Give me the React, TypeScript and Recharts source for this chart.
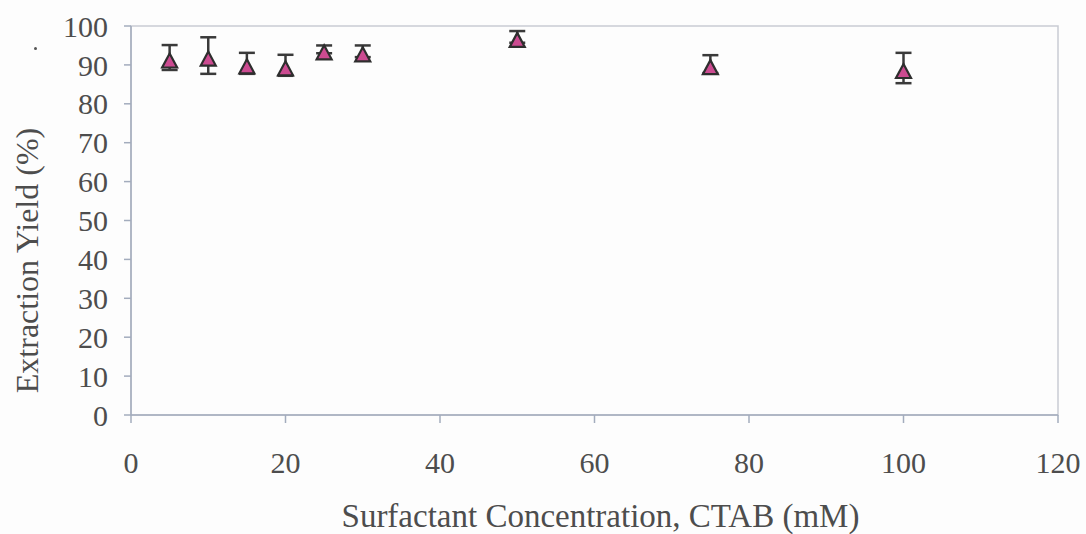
import React from "react";
import {
  ScatterChart,
  Scatter,
  XAxis,
  YAxis,
  ErrorBar,
  ReferenceArea,
} from "recharts";

// CTAB concentration (mM) vs extraction yield (%)
const concentrations = [5, 10, 15, 20, 25, 30, 50, 75, 100];
const yields = [91.9, 92.4, 90.4, 89.9, 94.0, 93.5, 97.2, 90.2, 89.2];
const errors = [3.2, 4.7, 2.7, 2.7, 1.0, 1.5, 1.5, 2.3, 3.9];

const xTicks = [0, 20, 40, 60, 80, 100, 120];
const yTicks = [0, 10, 20, 30, 40, 50, 60, 70, 80, 90, 100];

const data = concentrations.map((c, i) => ({ x: c, y: yields[i], err: errors[i] }));

const FONT = "'Liberation Serif', 'DejaVu Serif', serif";
const TEXT = "#4d4d4d";
const AXIS = "#a3acbd";

const Triangle = (props: any) => {
  const { cx, cy } = props;
  if (cx == null || cy == null) return null;
  const top = cy - 4;
  const base = cy + 10;
  return (
    <path
      d={`M${cx},${top} L${cx + 7.5},${base} L${cx - 7.5},${base} Z`}
      fill="#cc4b91"
      stroke="#2e2e2e"
      strokeWidth={2.2}
    />
  );
};

const YTitle = (props: any) => {
  const vb = props.viewBox || {};
  const cy = vb.y + vb.height / 2 + 40;
  return (
    <text
      x={27}
      y={cy}
      transform={`rotate(-90, 27, ${cy})`}
      textAnchor="middle"
      dominantBaseline="central"
      style={{ fontFamily: FONT, fontSize: 32 }}
      fill={TEXT}
    >
      Extraction Yield (%)
    </text>
  );
};

const XTitle = (props: any) => {
  const vb = props.viewBox || {};
  return (
    <text
      x={vb.x + vb.width / 2 + 6}
      y={527}
      textAnchor="middle"
      style={{ fontFamily: FONT, fontSize: 33 }}
      fill={TEXT}
    >
      Surfactant Concentration, CTAB (mM)
    </text>
  );
};

const tickStyle = { fontSize: 30, fill: TEXT, style: { fontFamily: FONT } };

export default function App() {
  return (
    <div style={{ position: "relative", width: 1086, height: 534, background: "#fdfdfd", fontFamily: FONT }}>
      <style>{`body{margin:0}`}</style>
      <div
        style={{
          position: "absolute",
          left: 34,
          top: 47,
          width: 3,
          height: 3,
          borderRadius: 2,
          background: "#555",
        }}
      />
      <ScatterChart
        width={1086}
        height={534}
        margin={{ top: 26, right: 28, left: 0, bottom: 0 }}
        style={{ fontFamily: FONT }}
      >
        <ReferenceArea
          x1={0}
          x2={120}
          y1={0}
          y2={100}
          fill="none"
          stroke="#c9ccd3"
          strokeWidth={1.5}
        />
        <XAxis
          type="number"
          dataKey="x"
          domain={[0, 120]}
          ticks={xTicks}
          interval={0}
          height={119}
          tickSize={8}
          tickMargin={29}
          stroke={AXIS}
          strokeWidth={1.5}
          tick={tickStyle}
          label={<XTitle />}
        />
        <YAxis
          type="number"
          dataKey="y"
          domain={[0, 100]}
          ticks={yTicks}
          interval={0}
          width={131}
          tickSize={7}
          tickMargin={16}
          stroke={AXIS}
          strokeWidth={1.5}
          tick={tickStyle}
          label={<YTitle />}
        />
        <Scatter data={data} shape={<Triangle />} isAnimationActive={false}>
          <ErrorBar dataKey="err" direction="y" width={8} stroke="#3a3a3a" strokeWidth={2.5} />
        </Scatter>
      </ScatterChart>
    </div>
  );
}
